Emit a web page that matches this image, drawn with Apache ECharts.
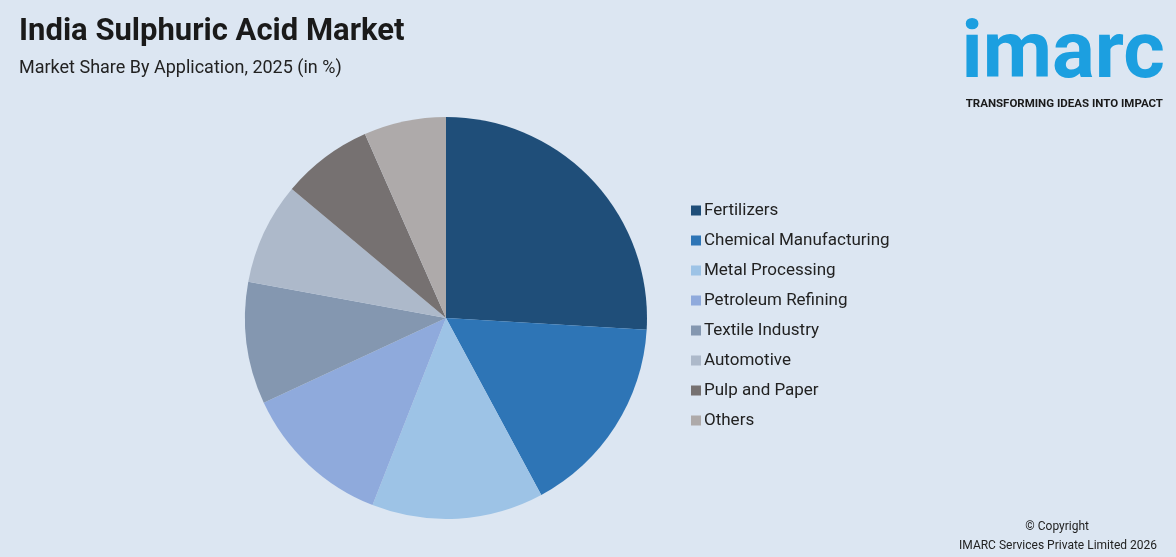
<!DOCTYPE html>
<html><head><meta charset="utf-8">
<script src="https://cdn.jsdelivr.net/npm/echarts@6/dist/echarts.min.js"></script>
<style>html,body{margin:0;padding:0;background:#dce6f2;}#c{width:1176px;height:557px;}</style>
</head><body><div id="c"></div>
<script>
const categories=["Fertilizers","Chemical Manufacturing","Metal Processing","Petroleum Refining","Textile Industry","Automotive","Pulp and Paper","Others"];
const values=[25.9,16.2,13.8,12.1,9.8,8.2,7.3,6.6];
const colors=["#1f4e79","#2e75b6","#9dc3e6","#8faadc","#8497b0","#adb9ca","#767171","#aeaaaa"];
const chart=echarts.init(document.getElementById('c'));
chart.setOption({
backgroundColor:'#dce6f2',
color:colors,
title:[{text:'India Sulphuric Acid Market',left:14,top:12,textStyle:{fontFamily:'Roboto',fontSize:31,fontWeight:'bold',color:'#1a1a1a'}},
{text:'Market Share By Application, 2025 (in %)',left:14,top:54,textStyle:{fontFamily:'Roboto',fontSize:18,fontWeight:'normal',color:'#222'}},
{text:'imarc',right:6,top:12,textStyle:{fontFamily:'Roboto',fontSize:80,fontWeight:'bold',color:'#1c9fe0'}},
{text:'TRANSFORMING IDEAS INTO IMPACT',right:8,top:93,textStyle:{fontFamily:'Roboto',fontSize:11.5,fontWeight:'bold',color:'#1a1a1a'}},
{text:'© Copyright',right:82,top:516,textStyle:{fontFamily:'Roboto',fontSize:12,fontWeight:'normal',color:'#222'}},
{text:'IMARC Services Private Limited 2026',right:14,top:535,textStyle:{fontFamily:'Roboto',fontSize:12,fontWeight:'normal',color:'#222'}}],
legend:{orient:'vertical',left:686,top:197,itemWidth:10,itemHeight:10,itemGap:13,icon:'rect',data:categories,textStyle:{fontFamily:'Roboto',fontSize:17,color:'#222',padding:[0,0,0,-2]}},
series:[{type:'pie',center:[446,318],radius:[0,201],startAngle:90,clockwise:true,label:{show:false},labelLine:{show:false},itemStyle:{borderWidth:0},
data:categories.map((n,i)=>({name:n,value:values[i]}))}]
});
</script></body></html>
